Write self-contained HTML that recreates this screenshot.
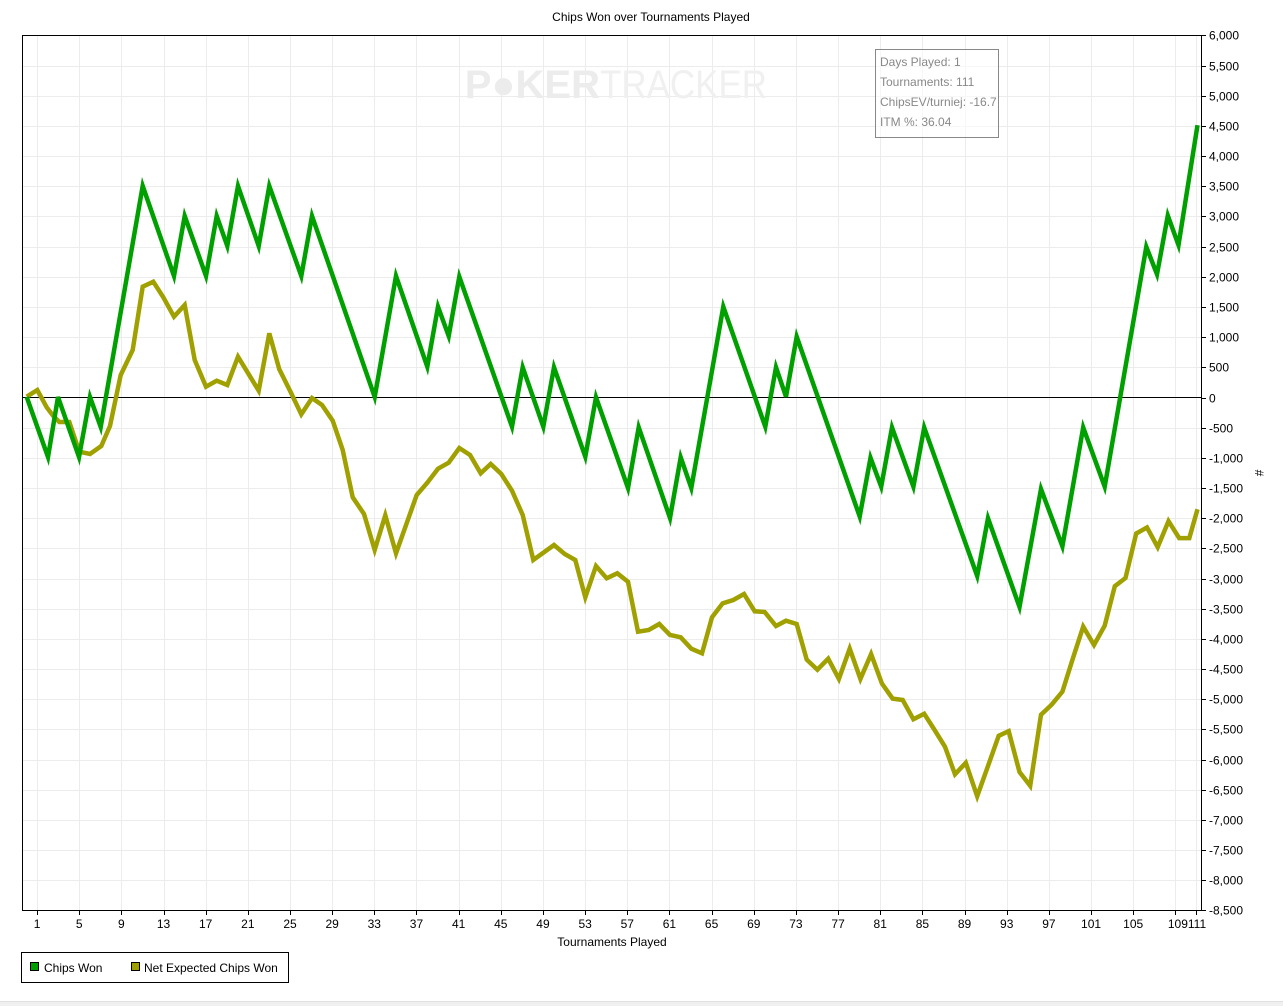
<!DOCTYPE html>
<html><head><meta charset="utf-8"><style>
html,body{margin:0;padding:0;background:#fff;}
svg{display:block;font-family:"Liberation Sans",Arial,sans-serif;}
</style></head><body>
<svg width="1283" height="1006" viewBox="0 0 1283 1006" xmlns="http://www.w3.org/2000/svg">
<rect width="1283" height="1006" fill="#fff"/>
<text x="651" y="21" font-size="12" text-anchor="middle" fill="#000">Chips Won over Tournaments Played</text>
<g id="grid" stroke="#ececec" stroke-width="1"></g>
<text x="600" y="98" font-size="40" font-weight="bold" fill="#ececec" text-anchor="end">P●KER</text>
<text x="600" y="98" font-size="40" fill="#f0f0f0" textLength="167" lengthAdjust="spacingAndGlyphs">TRACKER</text>
<line x1="22" y1="397.5" x2="1202" y2="397.5" stroke="#000" stroke-width="1"/>
<rect x="22.5" y="35.5" width="1179" height="875" fill="none" stroke="#000" stroke-width="1"/>
<g id="ticks" stroke="#000" stroke-width="1"></g>
<g id="ylab" font-size="12" fill="#000"></g>
<g id="xlab" font-size="12" fill="#000" text-anchor="middle"></g>
<text x="612" y="946" font-size="12" text-anchor="middle">Tournaments Played</text>
<text x="1255" y="473" font-size="12" transform="rotate(90 1255 473)" text-anchor="middle">#</text>
<polyline fill="none" stroke="#a0a000" stroke-width="4.5" stroke-linejoin="miter" points="26.7,396.7 37.3,390 46.7,407.3 53.3,416 59.3,422 69.3,422 79.3,451.7 90,454 101.3,446 110,426 120.7,375 132.7,350 142.7,286.7 153.3,281.7 163.3,297.3 174,316.7 184.7,305 194.7,360 206,386.7 216.7,380.7 227.3,385 238,356.7 258.7,390.7 269.3,333.3 279.3,369.3 290,390.7 301.3,414.3 312,398 322,405 332.7,420.7 342.7,450 352.7,497.3 364,514 374.7,550 385.3,515.3 396,553.3 416.7,495 427.3,482.7 438,468.7 448.7,462.7 459.3,448 470,455 480.7,473.3 490.7,464 501.3,474 512,490.7 522.7,515 533.3,560 554,545 564.7,554 575.3,560 585.3,597.3 596,566 606.7,578.3 617.3,573.3 628,581.7 638,631.7 648.7,630 659.3,624 670,635 680.7,637.3 691.3,648.7 702,653.3 712,617.3 722.7,603.3 733.3,600 744,594 754.7,611.3 764.7,612 776,626 786,620.7 796.7,624 806.7,659.6 817.4,669.7 828.2,658.7 838.9,678.9 849.7,648.6 860.4,678.9 871.1,654.1 881.9,683.5 892.6,698.6 902.7,700 913.4,719.3 924.2,713.8 934.2,729.4 945,746.8 955,774.3 965.8,762.8 977.2,796.3 988,766 998.7,735.8 1008.7,731.2 1019.5,772 1030.2,785.8 1041,714.7 1051.7,704.6 1062.4,691.7 1072.5,659.6 1083.2,626.6 1094,645 1104.7,625.7 1114.8,586.2 1125.5,578 1136.2,533.5 1147,527.5 1157.7,547.2 1168.5,521.1 1179.2,538.1 1189.3,538.1 1197.5,509.2"/>
<polyline fill="none" stroke="#00a000" stroke-width="4.5" stroke-linejoin="miter" points="26.7,397 48,457 58,397 79,457 90,397 100.7,427 142.7,186 174,276 184.7,216 206,276 216.7,216 227.3,246 238,186 258.7,246 269.3,186 301.3,276 312,216 374.7,397 396,276 427.3,366.7 438,306.7 448.7,336 459.3,276.7 512,426.7 522.7,367.3 543.3,426.7 554,367.3 585.3,456.7 596,397.3 628,488 638.7,427.3 670,518 680.7,457.3 691.3,488 723.3,306.7 765.3,426.7 776,367.3 786,396.7 796.7,336.7 859.7,516.5 870.5,457.8 881.2,486.7 892,427.5 913.4,486.7 924.2,427.5 977.2,576 988,518.3 1019.5,606.9 1041,489 1062.4,546.3 1083.2,427.5 1104.7,486.7 1146.3,246.8 1157,274.3 1167.8,215.6 1178.5,245 1197.5,125.2"/>
<rect x="875.5" y="49.5" width="123" height="88" fill="#fff" fill-opacity="0.6" stroke="#888"/>
<g font-size="12" fill="#888">
<text x="880" y="66">Days Played: 1</text>
<text x="880" y="86">Tournaments: 111</text>
<text x="880" y="106">ChipsEV/turniej: -16.7</text>
<text x="880" y="126">ITM %: 36.04</text>
</g>
<rect x="21.5" y="952.5" width="267" height="30" fill="#fff" stroke="#000"/>
<rect x="30.5" y="962.5" width="8" height="8" fill="#00a000" stroke="#000"/>
<text x="44" y="972" font-size="12">Chips Won</text>
<rect x="131.5" y="962.5" width="8" height="8" fill="#a0a000" stroke="#000"/>
<text x="144" y="972" font-size="12">Net Expected Chips Won</text>
<rect x="0" y="1001" width="1283" height="5" fill="#f0f0f0"/>
<line x1="0" y1="1001.5" x2="1283" y2="1001.5" stroke="#e0e0e0"/>
</svg>
<script>
(function(){
var ns="http://www.w3.org/2000/svg";
function el(p,t,a,txt){var e=document.createElementNS(ns,t);for(var k in a)e.setAttribute(k,a[k]);if(txt!=null)e.textContent=txt;document.getElementById(p).appendChild(e);}
function fmt(v){var s=Math.abs(v).toString();if(s.length>3)s=s.slice(0,s.length-3)+","+s.slice(-3);return (v<0?"-":"")+s;}
for(var v=6000;v>=-8500;v-=500){
 var y=397.5-v*(875/14500);y=Math.round(y)+0.5;
 if(v!==0&&v!==6000&&v!==-8500)el("grid","line",{x1:23,y1:y,x2:1201,y2:y});
 el("ticks","line",{x1:1201,y1:y,x2:1206,y2:y});
 el("ylab","text",{x:1209,y:y+4},fmt(v));
}
function xt(t){return 26.5+t*10.54;}
var xs=[];for(var t=1;t<=109;t+=4)xs.push(t);xs.push(111);
xs.forEach(function(t){var x=Math.round(xt(t))+0.5;
 el("grid","line",{x1:x,y1:36,x2:x,y2:910});
 el("ticks","line",{x1:x,y1:911,x2:x,y2:915});
});
for(var t=1;t<=105;t+=4)el("xlab","text",{x:xt(t),y:928},String(t));
el("xlab","text",{x:1187,y:928},"109111");
})();
</script>
</body></html>
